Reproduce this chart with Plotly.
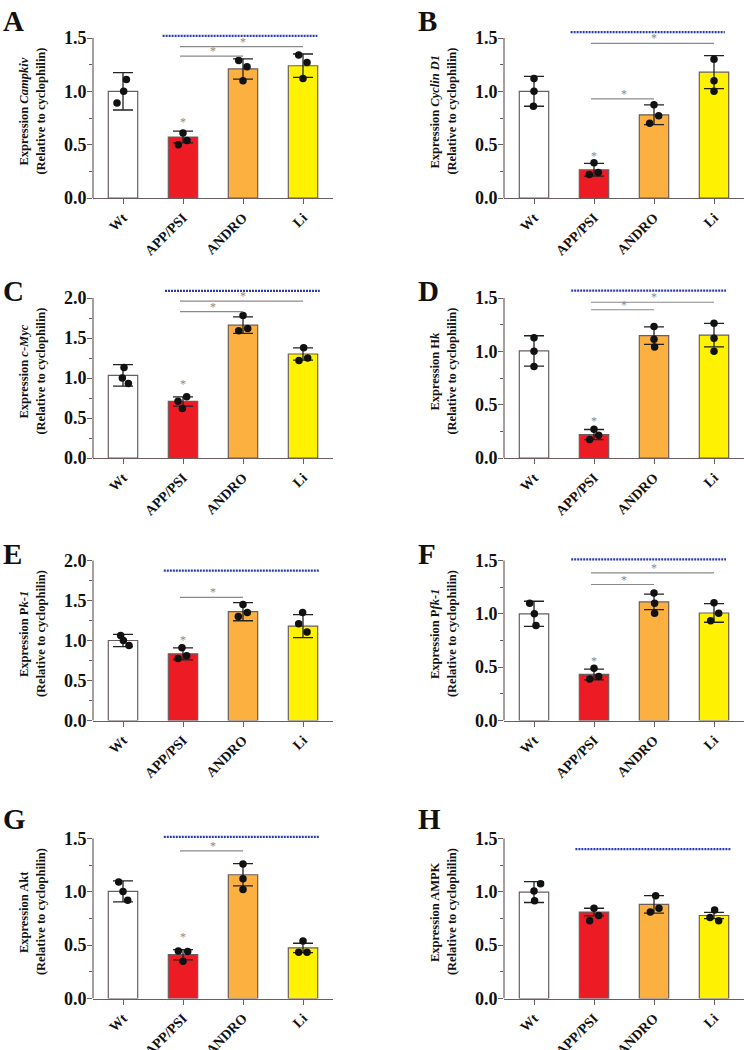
import plotly.graph_objects as go

GROUPS = ['Wt', 'APP/PSI', 'ANDRO', 'Li']
BAR_COLORS = ['#ffffff', '#ed1c24', '#fbb040', '#fff200']
PANELS = ['A', 'B', 'C', 'D', 'E', 'F', 'G', 'H']

YLABELS = {
    'A': 'Expression <i>Campkiv</i>',
    'B': 'Expression <i>Cyclin D1</i>',
    'C': 'Expression <i>c-Myc</i>',
    'D': 'Expression H<i>k</i>',
    'E': 'Expression P<i>k-1</i>',
    'F': 'Expression P<i>fk-1</i>',
    'G': 'Expression Akt',
    'H': 'Expression AMPK',
}
Y_TOP = {'A': 1.5, 'B': 1.5, 'C': 2.0, 'D': 1.5, 'E': 2.0, 'F': 1.5, 'G': 1.5, 'H': 1.5}

MEANS = {
    'A': [1.00, 0.572, 1.21, 1.24],
    'B': [1.00, 0.265, 0.78, 1.18],
    'C': [1.033, 0.707, 1.66, 1.30],
    'D': [1.004, 0.22, 1.148, 1.152],
    'E': [1.00, 0.833, 1.36, 1.18],
    'F': [1.00, 0.432, 1.112, 1.008],
    'G': [1.004, 0.411, 1.16, 0.474],
    'H': [0.998, 0.81, 0.882, 0.778],
}
SDS = {
    'A': [0.175, 0.055, 0.095, 0.11],
    'B': [0.14, 0.06, 0.093, 0.155],
    'C': [0.135, 0.058, 0.103, 0.077],
    'D': [0.142, 0.047, 0.082, 0.11],
    'E': [0.077, 0.074, 0.113, 0.143],
    'F': [0.118, 0.05, 0.072, 0.087],
    'G': [0.099, 0.048, 0.105, 0.044],
    'H': [0.098, 0.036, 0.082, 0.03],
}
DOTS = {
    'A': [[1.11, 1.0, 0.89], [0.61, 0.54, 0.50], [1.29, 1.23, 1.10], [1.34, 1.27, 1.12]],
    'B': [[1.12, 1.0, 0.86], [0.33, 0.24, 0.22], [0.875, 0.77, 0.70], [1.30, 1.10, 1.0]],
    'C': [[1.13, 1.0, 0.93], [0.766, 0.71, 0.62], [1.78, 1.62, 1.59], [1.377, 1.25, 1.22]],
    'D': [[1.127, 1.0, 0.857], [0.27, 0.213, 0.173], [1.233, 1.114, 1.04], [1.264, 1.123, 1.0]],
    'E': [[1.063, 1.0, 0.937], [0.908, 0.81, 0.774], [1.45, 1.35, 1.30], [1.35, 1.21, 1.105]],
    'F': [[1.10, 1.0, 0.89], [0.489, 0.413, 0.39], [1.196, 1.10, 1.005], [1.105, 1.005, 0.936]],
    'G': [[1.092, 1.004, 0.922], [0.446, 0.44, 0.35], [1.26, 1.123, 1.023], [0.54, 0.433, 0.433]],
    'H': [[1.076, 1.007, 0.916], [0.847, 0.778, 0.73], [0.963, 0.847, 0.81], [0.83, 0.76, 0.728]],
}
# horizontal scatter of the dots, in category units
JITTER = {
    'A': [[0.056, 0.011, -0.1], [0.0, 0.067, -0.078], [-0.072, 0.067, 0.0], [-0.072, 0.067, 0.0]],
    'B': [[0.0, 0.0, -0.01], [0.0, 0.072, -0.078], [0.0, 0.078, -0.072], [0.0, 0.0, 0.0]],
    'C': [[0.017, -0.011, 0.089], [0.061, -0.083, -0.011], [0.0, 0.078, -0.072], [0.011, 0.078, -0.067]],
    'D': [[0.0, 0.0, 0.0], [0.0, 0.078, -0.072], [0.0, 0.0, 0.01], [0.0, 0.0, 0.0]],
    'E': [[-0.039, 0.006, 0.1], [-0.017, 0.061, -0.083], [0.0, 0.072, -0.078], [-0.006, -0.072, 0.067]],
    'F': [[-0.072, 0.006, 0.033], [0.0, 0.078, -0.072], [0.0, 0.01, 0.01], [0.0, 0.078, -0.056]],
    'G': [[-0.072, 0.0, 0.078], [-0.078, 0.078, 0.0], [0.0, 0.0, 0.0], [0.0, -0.072, 0.067]],
    'H': [[0.11, 0.0, 0.01], [0.0, 0.078, -0.072], [0.028, 0.083, -0.061], [0.01, -0.067, 0.078]],
}
STAR_APP = {'A': 0.71, 'B': 0.39, 'C': 0.92, 'D': 0.345, 'E': 1.01, 'F': 0.554, 'G': 0.58, 'H': None}
SIG = {
    'A': [(1, 3, 1.42), (1, 2, 1.33)],
    'B': [(1, 3, 1.45), (1, 2, 0.93)],
    'C': [(1, 3, 1.96), (1, 2, 1.83)],
    'D': [(1, 3, 1.46), (1, 2, 1.39)],
    'E': [(1, 2, 1.54)],
    'F': [(1, 3, 1.384), (1, 2, 1.275)],
    'G': [(1, 2, 1.384)],
    'H': [],
}
DOTTED = {
    'A': (0.66, 3.24, 1.52), 'B': (0.61, 3.18, 1.556),
    'C': (0.70, 3.28, 2.088), 'D': (0.62, 3.20, 1.569),
    'E': (0.68, 3.27, 1.874), 'F': (0.62, 3.20, 1.51),
    'G': (0.68, 3.27, 1.516), 'H': (0.69, 3.28, 1.40),
}

W, H = 744, 1050
COL_PX = [(93, 333), (504, 744)]
ROW_ZERO = [198, 458, 720.5, 998.5]
LETTER_TOP = [3, 273, 536, 801]
AXIS_PX = 160
HEAD = 1.08
AXIS_COLOR = '#6b5d5d'
SERIF = 'Liberation Serif, Times New Roman, serif'

fig = go.Figure()
layout = dict(width=W, height=H, margin=dict(l=0, r=0, t=0, b=0),
              paper_bgcolor='white', plot_bgcolor='white', showlegend=False)
shapes, annotations = [], []

for i, p in enumerate(PANELS):
    r, c = divmod(i, 2)
    n = i + 1
    xid = 'x' if n == 1 else f'x{n}'
    yid = 'y' if n == 1 else f'y{n}'
    top = Y_TOP[p]
    x0px, x1px = COL_PX[c]
    zero = ROW_ZERO[r]
    dom_h = AXIS_PX * HEAD

    layout['xaxis' if n == 1 else f'xaxis{n}'] = dict(
        domain=[x0px / W, x1px / W], anchor=yid, range=[-0.5, 3.5], automargin=False,
        tickvals=[0, 1, 2, 3], ticktext=GROUPS, tickangle=-45,
        showline=True, linecolor=AXIS_COLOR, linewidth=1.2,
        ticks='outside', ticklen=5, tickcolor=AXIS_COLOR, tickwidth=1.2,
        ticklabelstandoff=0,
        tickfont=dict(family=SERIF, size=14, color='#111', weight='bold'),
        showgrid=False, zeroline=False, fixedrange=True,
    )
    layout['yaxis' if n == 1 else f'yaxis{n}'] = dict(
        domain=[1 - zero / H, 1 - (zero - dom_h) / H], anchor=xid, automargin=False,
        range=[0, top * HEAD], tick0=0, dtick=0.5, tickformat='.1f',
        showline=False, ticks='outside', ticklen=5, tickcolor=AXIS_COLOR, tickwidth=1.2,
        ticklabelstandoff=-3,
        minor=dict(dtick=0.25, tick0=0, ticks='outside', ticklen=3, tickcolor=AXIS_COLOR, tickwidth=1.2),
        tickfont=dict(family=SERIF, size=18, color='#111', weight='bold'),
        showgrid=False, zeroline=False, fixedrange=True,
    )

    # y axis line stops at the top tick
    shapes.append(dict(type='line', xref=f'{xid} domain', yref=yid, x0=0, x1=0, y0=0, y1=top,
                       line=dict(color=AXIS_COLOR, width=1.2)))

    fig.add_trace(go.Bar(
        x=[0, 1, 2, 3], y=MEANS[p], width=0.49, xaxis=xid, yaxis=yid,
        marker=dict(color=BAR_COLORS, line=dict(color=AXIS_COLOR, width=1.2)),
        error_y=dict(type='data', array=SDS[p], color='#222', thickness=1.3, width=10),
    ))
    xs, ys = [], []
    for g in range(4):
        for v, j in zip(DOTS[p][g], JITTER[p][g]):
            xs.append(g + j)
            ys.append(v)
    fig.add_trace(go.Scatter(x=xs, y=ys, mode='markers', xaxis=xid, yaxis=yid, cliponaxis=False,
                             marker=dict(color='#111', size=7.5)))

    dx0, dx1, dy = DOTTED[p]
    shapes.append(dict(type='line', xref=xid, yref=yid, x0=dx0, x1=dx1, y0=dy, y1=dy,
                       line=dict(color='#2b3bb0', width=2.2, dash='2px,1px')))
    for a, b, sy in SIG[p]:
        shapes.append(dict(type='line', xref=xid, yref=yid, x0=a - 0.05, x1=b, y0=sy, y1=sy,
                           line=dict(color='#8a8a8a', width=1.2)))
        annotations.append(dict(xref=xid, yref=yid, x=(a + b) / 2, y=sy, text='*', showarrow=False,
                                yanchor='middle', yshift=5, font=dict(family=SERIF, size=12, color='#888')))
    if STAR_APP[p] is not None:
        annotations.append(dict(xref=xid, yref=yid, x=1, y=STAR_APP[p], text='*', showarrow=False,
                                yanchor='middle', font=dict(family=SERIF, size=12, color='#888')))

    # two-line axis title, spaced like the original
    for k, line in enumerate([YLABELS[p], '(Relative to cyclophilin)']):
        annotations.append(dict(xref='paper', yref=f'{yid} domain', x=(x0px - 69 + 17 * k) / W, y=0.5,
                                text=line, textangle=-90, showarrow=False,
                                xanchor='center', yanchor='middle',
                                font=dict(family=SERIF, size=12.5, color='#111', weight='bold')))
    annotations.append(dict(xref='paper', yref='paper', x=(1 if c == 0 else 416) / W,
                            y=1 - LETTER_TOP[r] / H, text=p, showarrow=False,
                            xanchor='left', yanchor='top',
                            font=dict(family=SERIF, size=29, color='#111', weight='bold')))

layout['shapes'] = shapes
layout['annotations'] = annotations
fig.update_layout(**layout)

fig.write_html('out.html', post_script="document.body.style.margin='0px';",
               config={'displayModeBar': False})
